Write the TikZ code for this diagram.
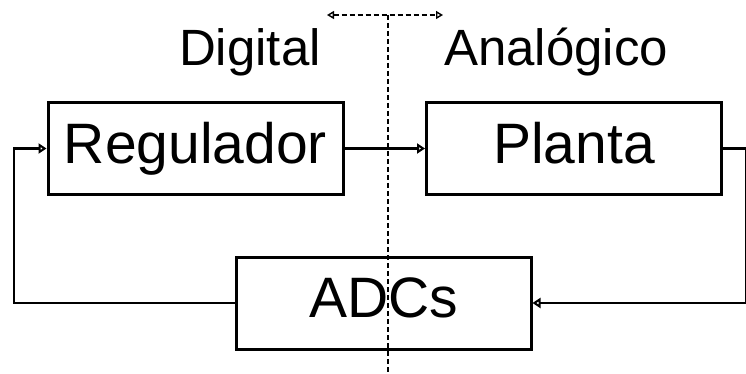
\documentclass[tikz,border=0pt]{standalone}
\usepackage{fontspec}
\setmainfont{Liberation Sans}
\usetikzlibrary{arrows.meta}

\tikzset{
    block/.style={draw, line width=3pt, inner sep=0pt, minimum width=295pt, minimum height=92pt,
        font=\fontsize{57}{60}\selectfont, text height=41.6pt, text depth=12pt},
    conn/.style={line width=2.4pt, -{Triangle[open, length=8pt, width=10pt]}},
    side/.style={anchor=base, font=\fontsize{51}{53}\selectfont},
    border/.style={line width=1.4pt, dash pattern=on 5pt off 3pt}
}

\begin{document}
\begin{tikzpicture}[x=1pt, y=-1pt]
    % Fix the page size (746 x 374)
    \useasboundingbox (0, 0) rectangle (746, 374);

    % Side labels
    \node[side] (dig) at (250, 66) {Digital};
    \node[side] (ana) at (556, 66) {Anal\'ogico};

    % Blocks
    \node[block] (reg) at (195.5, 148.5) {Regulador};
    \node[block] (pla) at (574, 148.5) {Planta};
    \node[block] (adc) at (383.5, 303) {ADCs};

    % Digital / analogue border and its arrow
    \coordinate (btop) at (388, 15);
    \coordinate (bbot) at (388, 374);
    \coordinate (bl) at (327, 15);
    \coordinate (br) at (443, 15);
    \draw[border] (btop) -- (bbot);
    \draw[border, {Triangle[open, length=7pt, width=8pt]}-{Triangle[open, length=7pt, width=8pt]}] (bl) -- (br);

    % Loop
    \coordinate (out) at (746, 148.5);
    \coordinate (in) at (14, 148.5);
    \draw[conn] (reg.east) -- (pla.west);
    \draw[conn] (pla.east) -- (out) |- (adc.east);
    \draw[conn] (adc.west) -| (in) -- (reg.west);
\end{tikzpicture}
\end{document}
